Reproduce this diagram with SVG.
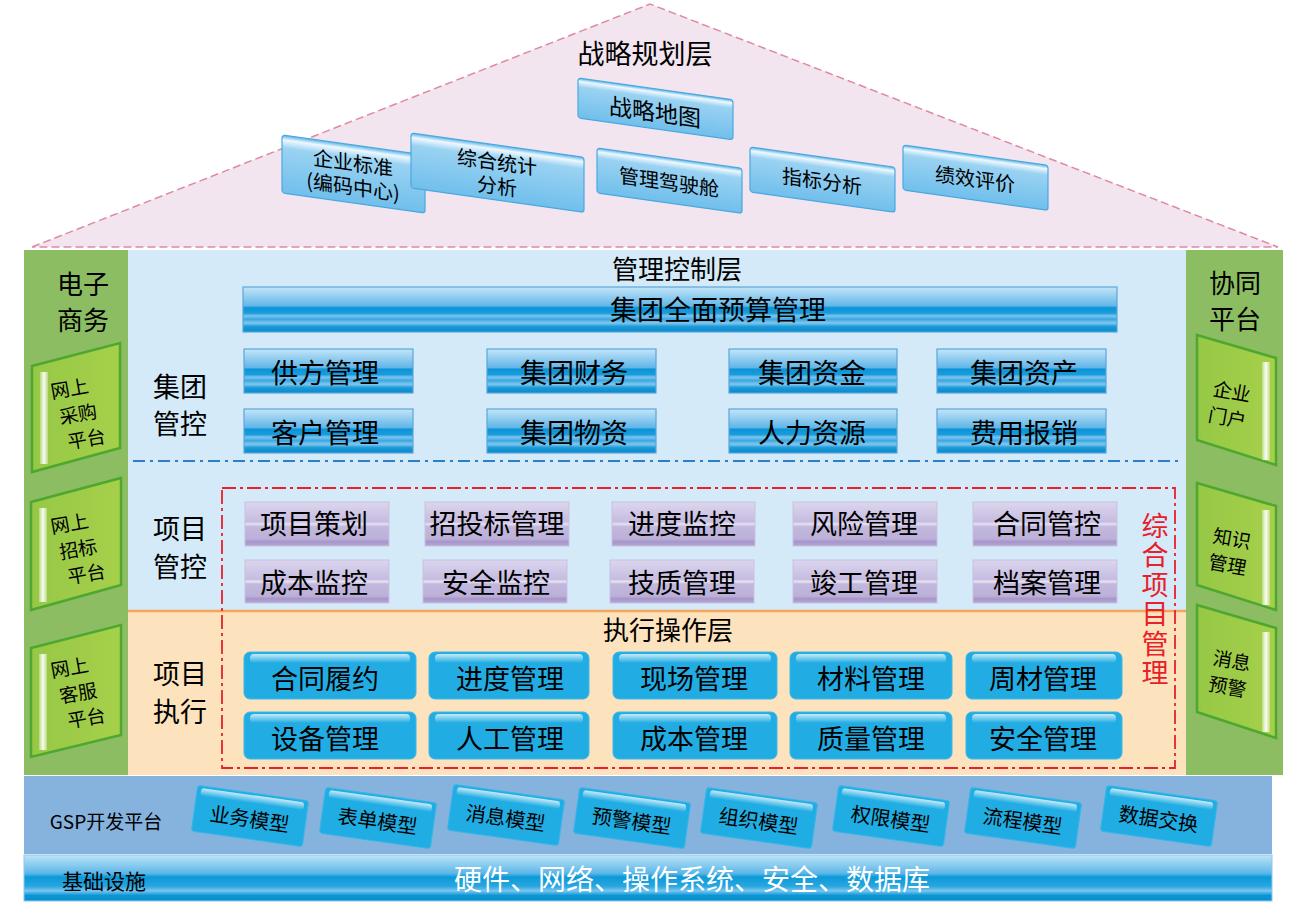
<svg xmlns="http://www.w3.org/2000/svg" width="1316" height="904" viewBox="0 0 1316 904">
<defs>
<style>
text{font-family:"Noto Sans CJK SC","Noto Sans CJK JP",sans-serif;fill:#000;text-anchor:middle;dominant-baseline:central}
.t27{font-size:27px}
.t26{font-size:26px}
.t21{font-size:21px}
.t20{font-size:20px}
.t19{font-size:19px}
.bb{fill:url(#gBlue);stroke:#5aa6dc;stroke-width:1.2}
.pb{fill:url(#gPur);stroke:#c8c0e2;stroke-width:1}
.eb{fill:#21ade3;stroke:#3cb8e8;stroke-width:1}
.hl{fill:url(#gHl)}
.sb{fill:url(#gSky);stroke:#4aa8e0;stroke-width:1.2}
.gb{fill:#20ade3;stroke:#38b6e8;stroke-width:1}
.grn{fill:url(#gGrn);stroke:#4ea72e;stroke-width:2.5}
</style>
<linearGradient id="gBlue" x1="0" y1="0" x2="0" y2="1">
<stop offset="0" stop-color="#c4e5f8"/>
<stop offset="0.42" stop-color="#62b6e8"/>
<stop offset="0.46" stop-color="#0a94d8"/>
<stop offset="0.58" stop-color="#1a9cdc"/>
<stop offset="0.64" stop-color="#7cc4ee"/>
<stop offset="0.72" stop-color="#3aa8e2"/>
<stop offset="0.8" stop-color="#82c8ee"/>
<stop offset="0.88" stop-color="#1a9ad8"/>
<stop offset="1" stop-color="#0a88cc"/>
</linearGradient>
<linearGradient id="gInfra" x1="0" y1="0" x2="0" y2="1">
<stop offset="0" stop-color="#bfe4f8"/>
<stop offset="0.4" stop-color="#5cb6e8"/>
<stop offset="0.48" stop-color="#0a9ad8"/>
<stop offset="0.68" stop-color="#2aa6e0"/>
<stop offset="0.78" stop-color="#7ac6ee"/>
<stop offset="0.88" stop-color="#0a96d6"/>
<stop offset="1" stop-color="#0a8ccc"/>
</linearGradient>
<linearGradient id="gPur" x1="0" y1="0" x2="0" y2="1">
<stop offset="0" stop-color="#dcd6ee"/>
<stop offset="0.45" stop-color="#c6bce0"/>
<stop offset="0.5" stop-color="#e6e2f2"/>
<stop offset="0.56" stop-color="#c2b8dd"/>
<stop offset="0.84" stop-color="#bcb0d8"/>
<stop offset="0.9" stop-color="#a696cb"/>
<stop offset="1" stop-color="#b4a6d3"/>
</linearGradient>
<linearGradient id="gHl" x1="0" y1="0" x2="0" y2="1">
<stop offset="0" stop-color="#ffffff" stop-opacity="0.75"/>
<stop offset="1" stop-color="#ffffff" stop-opacity="0"/>
</linearGradient>
<linearGradient id="gSky" x1="0" y1="0" x2="0" y2="1">
<stop offset="0" stop-color="#5ab4e8"/>
<stop offset="0.08" stop-color="#eef8fe"/>
<stop offset="0.22" stop-color="#9ad2f2"/>
<stop offset="1" stop-color="#70bfec"/>
</linearGradient>
<linearGradient id="gGrn" x1="0" y1="0" x2="1" y2="0">
<stop offset="0" stop-color="#96c846"/>
<stop offset="1" stop-color="#a6d04a"/>
</linearGradient>
<linearGradient id="gStripe" x1="0" y1="0" x2="1" y2="0">
<stop offset="0" stop-color="#ffffff" stop-opacity="0.3"/>
<stop offset="0.5" stop-color="#ffffff" stop-opacity="0.95"/>
<stop offset="1" stop-color="#ffffff" stop-opacity="0.3"/>
</linearGradient>
</defs>

<rect width="1316" height="904" fill="#ffffff"/>

<!-- Roof -->
<g id="roof">
<polygon points="32,247 650,4 1278,247" fill="#f2e5ef" stroke="#e08aa2" stroke-width="1.5" stroke-dasharray="8 4"/>
<text class="t27" x="645" y="52">战略规划层</text>
</g>

<g id="strategy">
<g id="s-map" transform="translate(578,78) skewY(8)"><rect class="sb" width="155" height="40" rx="3"/><text class="t21" x="77" y="22" style="font-size:23px">战略地图</text></g>
<g id="s-std" transform="translate(282,135) skewY(8)"><rect class="sb" width="143" height="58" rx="3"/><text class="t20" x="71" y="17">企业标准</text><text class="t20" x="71" y="41">(编码中心)</text></g>
<g id="s-stat" transform="translate(411,133) skewY(8)"><rect class="sb" width="173" height="55" rx="3"/><text class="t20" x="86" y="16">综合统计</text><text class="t20" x="86" y="40">分析</text></g>
<g id="s-cockpit" transform="translate(597,148) skewY(8)"><rect class="sb" width="145" height="45" rx="3"/><text class="t20" x="72" y="23">管理驾驶舱</text></g>
<g id="s-index" transform="translate(750,147) skewY(8)"><rect class="sb" width="145" height="45" rx="3"/><text class="t20" x="72" y="23">指标分析</text></g>
<g id="s-perf" transform="translate(903,145) skewY(8)"><rect class="sb" width="145" height="45" rx="3"/><text class="t20" x="72" y="23">绩效评价</text></g>
</g>

<!-- Layers backgrounds -->
<g id="layers">
<rect x="127" y="250" width="1059" height="361" fill="#d4eaf8"/>
<rect x="127" y="611" width="1059" height="164" fill="#fce3bd"/>
<line x1="127" y1="611" x2="1186" y2="611" stroke="#f4a55a" stroke-width="2.5"/>
<line x1="133" y1="461" x2="1183" y2="461" stroke="#2a7fc8" stroke-width="2" stroke-dasharray="12 5 3 5"/>
<rect x="222" y="488" width="953" height="280" fill="none" stroke="#e8202a" stroke-width="1.8" stroke-dasharray="14 4 3 4"/>
<text class="t26" x="677" y="267">管理控制层</text>
<text class="t26" x="668" y="628">执行操作层</text>
</g>

<g id="budget">
<rect class="bb" x="243" y="287" width="874" height="45"/>
<text class="t27" x="718" y="308">集团全面预算管理</text>
</g>

<g id="group-ctrl">
<text class="t27" x="180" y="385">集团<tspan x="180" dy="37">管控</tspan></text>
<g id="n-gongfang"><rect class="bb" x="244" y="349" width="169" height="44"/><text class="t27" x="325" y="371">供方管理</text></g>
<g id="n-caiwu"><rect class="bb" x="487" y="349" width="169" height="44"/><text class="t27" x="574" y="371">集团财务</text></g>
<g id="n-zijin"><rect class="bb" x="729" y="349" width="168" height="44"/><text class="t27" x="812" y="371">集团资金</text></g>
<g id="n-zichan"><rect class="bb" x="937" y="349" width="169" height="44"/><text class="t27" x="1024" y="371">集团资产</text></g>
<g id="n-kehu"><rect class="bb" x="244" y="409" width="169" height="44"/><text class="t27" x="325" y="431">客户管理</text></g>
<g id="n-wuzi"><rect class="bb" x="487" y="409" width="169" height="44"/><text class="t27" x="574" y="431">集团物资</text></g>
<g id="n-renli"><rect class="bb" x="729" y="409" width="168" height="44"/><text class="t27" x="812" y="431">人力资源</text></g>
<g id="n-feiyong"><rect class="bb" x="937" y="409" width="169" height="44"/><text class="t27" x="1024" y="431">费用报销</text></g>
</g>

<g id="proj-ctrl">
<text class="t27" x="180" y="527">项目<tspan x="180" dy="38">管控</tspan></text>
<g id="p-cehua"><rect class="pb" x="245" y="502" width="144" height="44"/><text class="t27" x="314" y="522">项目策划</text></g>
<g id="p-zhaotou"><rect class="pb" x="425" y="502" width="144" height="44"/><text class="t27" x="497" y="522">招投标管理</text></g>
<g id="p-jindu"><rect class="pb" x="612" y="502" width="143" height="44"/><text class="t27" x="682" y="522">进度监控</text></g>
<g id="p-fengxian"><rect class="pb" x="793" y="502" width="144" height="44"/><text class="t27" x="864" y="522">风险管理</text></g>
<g id="p-hetong"><rect class="pb" x="973" y="502" width="144" height="44"/><text class="t27" x="1047" y="522">合同管控</text></g>
<g id="p-chengben"><rect class="pb" x="245" y="560" width="144" height="43"/><text class="t27" x="314" y="581">成本监控</text></g>
<g id="p-anquan"><rect class="pb" x="423" y="560" width="144" height="43"/><text class="t27" x="496" y="581">安全监控</text></g>
<g id="p-jizhi"><rect class="pb" x="610" y="560" width="144" height="43"/><text class="t27" x="682" y="581">技质管理</text></g>
<g id="p-jungong"><rect class="pb" x="793" y="560" width="144" height="43"/><text class="t27" x="864" y="581">竣工管理</text></g>
<g id="p-dangan"><rect class="pb" x="973" y="560" width="144" height="43"/><text class="t27" x="1047" y="581">档案管理</text></g>
</g>

<g id="proj-exec">
<text class="t27" x="180" y="672">项目<tspan x="180" dy="38">执行</tspan></text>
<g id="e-lvyue"><rect class="eb" x="244" y="652" width="172" height="47" rx="6"/><rect class="hl" x="250" y="654" width="160" height="9" rx="4"/><text class="t27" x="325" y="677">合同履约</text></g>
<g id="e-jindu"><rect class="eb" x="429" y="652" width="160" height="47" rx="6"/><rect class="hl" x="435" y="654" width="148" height="9" rx="4"/><text class="t27" x="510" y="677">进度管理</text></g>
<g id="e-xianchang"><rect class="eb" x="613" y="652" width="164" height="47" rx="6"/><rect class="hl" x="619" y="654" width="152" height="9" rx="4"/><text class="t27" x="694" y="677">现场管理</text></g>
<g id="e-cailiao"><rect class="eb" x="790" y="652" width="162" height="47" rx="6"/><rect class="hl" x="796" y="654" width="150" height="9" rx="4"/><text class="t27" x="871" y="677">材料管理</text></g>
<g id="e-zhoucai"><rect class="eb" x="966" y="652" width="156" height="47" rx="6"/><rect class="hl" x="972" y="654" width="144" height="9" rx="4"/><text class="t27" x="1043" y="677">周材管理</text></g>
<g id="e-shebei"><rect class="eb" x="244" y="712" width="172" height="47" rx="6"/><rect class="hl" x="250" y="714" width="160" height="9" rx="4"/><text class="t27" x="325" y="737">设备管理</text></g>
<g id="e-rengong"><rect class="eb" x="429" y="712" width="160" height="47" rx="6"/><rect class="hl" x="435" y="714" width="148" height="9" rx="4"/><text class="t27" x="510" y="737">人工管理</text></g>
<g id="e-chengben"><rect class="eb" x="613" y="712" width="164" height="47" rx="6"/><rect class="hl" x="619" y="714" width="152" height="9" rx="4"/><text class="t27" x="694" y="737">成本管理</text></g>
<g id="e-zhiliang"><rect class="eb" x="790" y="712" width="162" height="47" rx="6"/><rect class="hl" x="796" y="714" width="150" height="9" rx="4"/><text class="t27" x="871" y="737">质量管理</text></g>
<g id="e-anquan"><rect class="eb" x="966" y="712" width="156" height="47" rx="6"/><rect class="hl" x="972" y="714" width="144" height="9" rx="4"/><text class="t27" x="1043" y="737">安全管理</text></g>
</g>

<g id="zonghe">
<text x="1155" y="512" style="font-size:27px;fill:#e8202a;writing-mode:vertical-rl;text-anchor:start;dominant-baseline:auto;letter-spacing:2.5px">综合项目管理</text>
</g>

<!-- Left column -->
<g id="ecommerce">
<rect x="24" y="250" width="104" height="525" fill="#8cbd62"/>
<text class="t26" x="83" y="282">电子<tspan x="83" dy="36">商务</tspan></text>
</g>
<g id="l-caigou">
<polygon class="grn" points="32,366 120,343 120,448 32,472"/>
<rect x="40" y="372" width="8" height="92" fill="url(#gStripe)"/>
<g transform="rotate(-10 78 413)"><text class="t19" x="74" y="386">网上<tspan x="78" dy="26">采购</tspan><tspan x="82" dy="26">平台</tspan></text></g>
</g>
<g id="l-zhaobiao">
<polygon class="grn" points="31,502 121,478 121,585 31,610"/>
<rect x="39" y="508" width="8" height="94" fill="url(#gStripe)"/>
<g transform="rotate(-10 78 548)"><text class="t19" x="74" y="521">网上<tspan x="78" dy="26">招标</tspan><tspan x="82" dy="26">平台</tspan></text></g>
</g>
<g id="l-kefu">
<polygon class="grn" points="31,648 121,625 121,735 31,757"/>
<rect x="39" y="654" width="8" height="96" fill="url(#gStripe)"/>
<g transform="rotate(-10 78 692)"><text class="t19" x="74" y="665">网上<tspan x="78" dy="26">客服</tspan><tspan x="82" dy="26">平台</tspan></text></g>
</g>

<!-- Right column -->
<g id="collab">
<rect x="1186" y="250" width="97" height="525" fill="#8cbd62"/>
<text class="t26" x="1235" y="281">协同<tspan x="1235" dy="36">平台</tspan></text>
</g>
<g id="r-menhu">
<polygon class="grn" points="1197,335 1276,358 1276,465 1197,440"/>
<rect x="1262" y="362" width="8" height="98" fill="url(#gStripe)"/>
<g transform="rotate(10 1230 402)"><text class="t19" x="1230" y="390">企业<tspan x="1230" dy="26">门户</tspan></text></g>
</g>
<g id="r-zhishi">
<polygon class="grn" points="1197,483 1276,506 1276,610 1197,585"/>
<rect x="1262" y="510" width="8" height="95" fill="url(#gStripe)"/>
<g transform="rotate(10 1230 550)"><text class="t19" x="1230" y="537">知识<tspan x="1230" dy="26">管理</tspan></text></g>
</g>
<g id="r-xiaoxi">
<polygon class="grn" points="1197,605 1276,628 1276,738 1197,712"/>
<rect x="1262" y="632" width="8" height="100" fill="url(#gStripe)"/>
<g transform="rotate(10 1230 672)"><text class="t19" x="1230" y="659">消息<tspan x="1230" dy="26">预警</tspan></text></g>
</g>

<!-- GSP platform -->
<g id="gsp">
<rect x="24" y="776" width="1248" height="78" fill="#86b2de"/>
<text class="t19" x="106" y="820">GSP开发平台</text>
</g>
<g id="gsp-models">
<g transform="translate(250,816) rotate(8)"><rect class="gb" x="-56" y="-23" width="112" height="46" rx="3"/><rect class="hl" x="-52" y="-21" width="104" height="8" rx="3"/><text class="t20" x="0" y="2">业务模型</text></g>
<g transform="translate(378,818) rotate(8)"><rect class="gb" x="-56" y="-23" width="112" height="46" rx="3"/><rect class="hl" x="-52" y="-21" width="104" height="8" rx="3"/><text class="t20" x="0" y="2">表单模型</text></g>
<g transform="translate(506,815) rotate(8)"><rect class="gb" x="-56" y="-23" width="112" height="46" rx="3"/><rect class="hl" x="-52" y="-21" width="104" height="8" rx="3"/><text class="t20" x="0" y="2">消息模型</text></g>
<g transform="translate(632,818) rotate(8)"><rect class="gb" x="-56" y="-23" width="112" height="46" rx="3"/><rect class="hl" x="-52" y="-21" width="104" height="8" rx="3"/><text class="t20" x="0" y="2">预警模型</text></g>
<g transform="translate(759,818) rotate(8)"><rect class="gb" x="-56" y="-23" width="112" height="46" rx="3"/><rect class="hl" x="-52" y="-21" width="104" height="8" rx="3"/><text class="t20" x="0" y="2">组织模型</text></g>
<g transform="translate(891,816) rotate(8)"><rect class="gb" x="-56" y="-23" width="112" height="46" rx="3"/><rect class="hl" x="-52" y="-21" width="104" height="8" rx="3"/><text class="t20" x="0" y="2">权限模型</text></g>
<g transform="translate(1023,818) rotate(8)"><rect class="gb" x="-56" y="-23" width="112" height="46" rx="3"/><rect class="hl" x="-52" y="-21" width="104" height="8" rx="3"/><text class="t20" x="0" y="2">流程模型</text></g>
<g transform="translate(1159,816) rotate(8)"><rect class="gb" x="-56" y="-23" width="112" height="46" rx="3"/><rect class="hl" x="-52" y="-21" width="104" height="8" rx="3"/><text class="t20" x="0" y="2">数据交换</text></g>
</g>

<!-- Infrastructure -->
<g id="infra">
<rect x="24" y="855" width="1248" height="46" fill="url(#gInfra)" stroke="#8cc8ec" stroke-width="1"/>
<text class="t21" x="104" y="880">基础设施</text>
<text x="692" y="878" style="font-size:28px;fill:#ffffff">硬件、网络、操作系统、安全、数据库</text>
</g>

<g id="connectors"/>
</svg>
